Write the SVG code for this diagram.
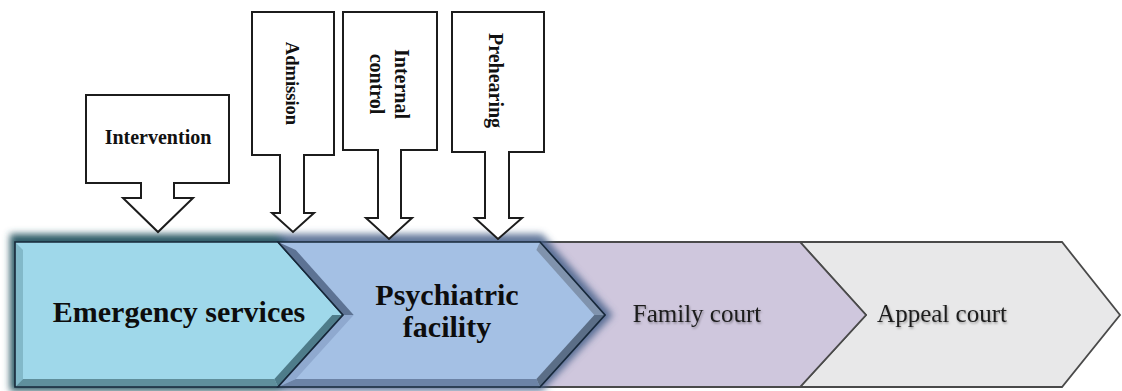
<svg xmlns="http://www.w3.org/2000/svg" width="1122" height="391" viewBox="0 0 1122 391">
  <defs>
    <filter id="glow" x="-10%" y="-30%" width="120%" height="160%">
      <feGaussianBlur stdDeviation="3.5"/>
    </filter>
    <filter id="soft-shadow" x="-10%" y="-30%" width="120%" height="160%">
      <feDropShadow dx="1" dy="1.5" stdDeviation="1" flood-color="#000" flood-opacity="0.35"/>
    </filter>
    <style>
      .callout { fill: #ffffff; stroke: #1c1c1c; stroke-width: 2; stroke-linejoin: miter; }
      .callout-label { font-family: "Liberation Serif", "Times New Roman", serif; font-weight: bold; font-size: 20px; fill: #111; text-anchor: middle; }
      .stage-bold { font-family: "Liberation Serif", "Times New Roman", serif; font-weight: bold; font-size: 30px; fill: #0d0d0d; text-anchor: middle; }
      .stage-plain { font-family: "Liberation Serif", "Times New Roman", serif; font-size: 25px; fill: #1e1e1e; text-anchor: middle; }
      .edge-dark { fill: none; stroke: #17283a; stroke-width: 1.6; stroke-linejoin: miter; }
      .edge-grey { fill: none; stroke: #4a4a4a; stroke-width: 1.8; stroke-linejoin: miter; }
    </style>
  </defs>

  <rect width="1122" height="391" fill="#ffffff"/>

  <!-- later stages: flat chevrons -->
  <g id="node-appeal-court">
    <polygon points="800,242 1062,242 1120,315 1062,387 800,387 866,315" fill="#e8e8e9"/>
    <polygon class="edge-grey" points="800,242 1062,242 1120,315 1062,387 800,387 866,315"/>
    <text class="stage-plain" x="942" y="322" filter="url(#soft-shadow)">Appeal court</text>
  </g>

  <g id="node-family-court">
    <polygon points="540,242 800,242 866,315 800,387 540,387 605,315" fill="#cfc7dd"/>
    <polygon class="edge-grey" points="540,242 800,242 866,315 800,387 540,387 605,315"/>
    <text class="stage-plain" x="697" y="322" filter="url(#soft-shadow)">Family court</text>
  </g>

  <!-- dark halo behind the two highlighted stages -->
  <g id="halo" filter="url(#glow)">
    <polygon points="10,234 280,234 350,315 280,391 10,391" fill="#2d5c68"/>
    <polygon points="276,234 542,234 613,315 542,391 276,391 343,315" fill="#445f88" opacity="0.85"/>
  </g>

  <!-- first stage: bevelled chevron -->
  <g id="node-emergency-services">
    <polygon points="15,242 278,242 343,315 278,387 15,387" fill="#9fd8ea"/>
    <polygon points="15,242 23,250 23,379 15,387" fill="#82b9c9"/>
    <polygon points="15,387 23,379 274.4,379 278,387" fill="#5f8f9c"/>
    <polygon points="278,387 274.4,379 332.3,315 343,315" fill="#4e7c8a"/>
    <polygon class="edge-dark" points="15,242 278,242 343,315 278,387 15,387"/>
    <text class="stage-bold" x="179" y="322">Emergency services</text>
  </g>

  <!-- second stage: bevelled chevron with notch -->
  <g id="node-psychiatric-facility">
    <polygon points="278,242 540,242 605,315 540,387 278,387 343,315" fill="#a4c0e4"/>
    <polygon points="278,242 295.8,250 353.7,315 343,315" fill="#5d7394"/>
    <polygon points="343,315 353.7,315 295.8,379 278,387" fill="#8fa9cf"/>
    <polygon points="278,387 295.8,379 536.4,379 540,387" fill="#6c83a6"/>
    <polygon points="540,242 536.4,250 594.3,315 605,315" fill="#8093ad"/>
    <polygon points="605,315 594.3,315 536.4,379 540,387" fill="#5b6e87"/>
    <polygon class="edge-dark" points="278,242 540,242 605,315 540,387 278,387 343,315"/>
    <text class="stage-bold" x="447" y="305">Psychiatric</text>
    <text class="stage-bold" x="447" y="337">facility</text>
  </g>

  <!-- down-pointing callouts -->
  <g id="node-intervention">
    <path class="callout" d="M86,95 H229 V183 H174 V198 H193 L158,232 L123,198 H141 V183 H86 Z"/>
    <text class="callout-label" x="158" y="144">Intervention</text>
  </g>

  <g id="node-admission">
    <path class="callout" d="M252,12 H334 V155 H304 V213 H314 L293,232 L272,213 H280 V155 H252 Z"/>
    <text class="callout-label" style="font-size:18.5px" transform="translate(286,83.5) rotate(90)">Admission</text>
  </g>

  <g id="node-internal-control">
    <path class="callout" d="M343,12 H437 V150 H401 V218 H412 L389,239 L366,218 H378 V150 H343 Z"/>
    <text class="callout-label" transform="translate(395,84) rotate(90)">Internal</text>
    <text class="callout-label" transform="translate(370,84) rotate(90)">control</text>
  </g>

  <g id="node-prehearing">
    <path class="callout" d="M452,12 H544 V152 H509 V218 H522 L498,239 L475,218 H485 V152 H452 Z"/>
    <text class="callout-label" transform="translate(489,80.5) rotate(90)">Prehearing</text>
  </g>
</svg>
